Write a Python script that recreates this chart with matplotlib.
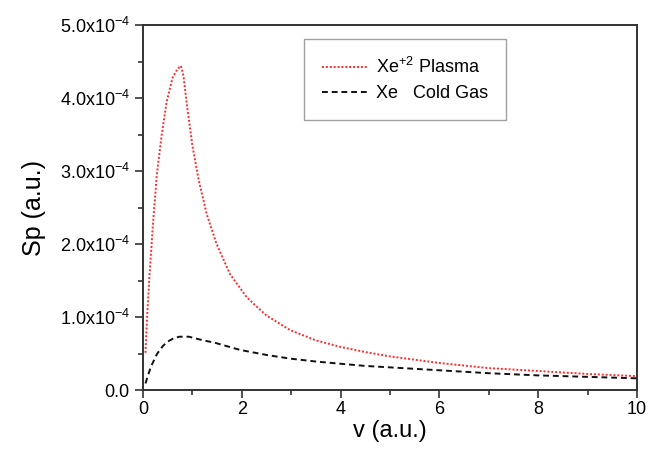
"""
Stopping power of xenon vs projectile velocity:
Xe+2 plasma compared with cold Xe gas.
"""

import matplotlib
matplotlib.use("Agg")
import matplotlib.pyplot as plt
from matplotlib.ticker import MultipleLocator, FixedLocator, FixedFormatter

plt.rcParams["font.family"] = ["Liberation Sans", "DejaVu Sans"]
plt.rcParams["mathtext.fontset"] = "custom"
plt.rcParams["mathtext.rm"] = "Liberation Sans"
plt.rcParams["mathtext.it"] = "Liberation Sans:italic"

# ---------------------------------------------------------------------------
# Data (Sp in units of 1e-4 a.u.)
# ---------------------------------------------------------------------------
SCALE = 1e-4

v_plasma = [0.05, 0.08, 0.13, 0.20, 0.28, 0.38, 0.48, 0.60, 0.70, 0.77,
            0.82, 0.90, 1.00, 1.13, 1.29, 1.49, 1.76, 2.10, 2.50, 2.98,
            3.5, 4.0, 4.5, 5.0, 6.0, 7.0, 8.0, 9.0, 10.0]
sp_plasma = [0.51, 0.95, 1.55, 2.25, 2.95, 3.50, 3.95, 4.28, 4.40, 4.44,
             4.30, 3.85, 3.35, 2.87, 2.41, 2.00, 1.59, 1.27, 1.02, 0.82,
             0.68, 0.59, 0.52, 0.46, 0.37, 0.30, 0.26, 0.22, 0.19]

v_gas = [0.05, 0.16, 0.29, 0.40, 0.49, 0.60, 0.73, 0.85, 0.93, 1.1,
         1.29, 1.44, 1.7, 1.96, 2.5, 2.98, 3.5, 3.99, 4.5, 5.0,
         6.0, 7.0, 8.0, 9.0, 10.0]
sp_gas = [0.09, 0.32, 0.50, 0.60, 0.66, 0.70, 0.73, 0.73, 0.73, 0.70,
          0.67, 0.65, 0.60, 0.55, 0.48, 0.43, 0.39, 0.36, 0.33, 0.31,
          0.27, 0.23, 0.20, 0.18, 0.16]

y_ticks = [0.0, 1.0, 2.0, 3.0, 4.0, 5.0]
y_tick_labels = ["0.0"] + [f"{t:.1f}x10$^{{-4}}$" for t in y_ticks[1:]]


def main() -> None:
    fig = plt.figure(figsize=(6.49, 4.49), dpi=100)
    ax = fig.add_axes([0.2203, 0.1314, 0.7612, 0.8129])

    ax.plot(v_plasma, [s * SCALE for s in sp_plasma], color="#ff2a2a",
            linestyle=(0, (1, 1)), linewidth=1.4, label="Xe$^{+2}$ Plasma")
    ax.plot(v_gas, [s * SCALE for s in sp_gas], color="#111111",
            linestyle=(0, (3, 2)), linewidth=1.4, label="Xe   Cold Gas")

    ax.set_xlim(0, 10)
    ax.set_ylim(0, 5.0e-4)

    ax.xaxis.set_major_locator(MultipleLocator(2))
    ax.xaxis.set_minor_locator(MultipleLocator(1))
    ax.yaxis.set_major_locator(FixedLocator([t * SCALE for t in y_ticks]))
    ax.yaxis.set_major_formatter(FixedFormatter(y_tick_labels))
    ax.yaxis.set_minor_locator(MultipleLocator(0.5e-4))

    ax.tick_params(which="both", direction="out", top=False, right=False,
                   width=1.2, color="#333333", labelsize=13)
    ax.tick_params(which="major", length=6)
    ax.tick_params(which="minor", length=3.5)
    ax.tick_params(axis="x", pad=2)
    for spine in ax.spines.values():
        spine.set_linewidth(1.4)
        spine.set_color("#333333")

    ax.set_xlabel("v (a.u.)", fontsize=17, labelpad=1)
    ax.set_ylabel("Sp (a.u.)", fontsize=18, labelpad=10)

    leg = ax.legend(loc="upper left", bbox_to_anchor=(0.326, 0.962),
                    borderaxespad=0, fontsize=13, frameon=True,
                    fancybox=False, handlelength=2.5, handletextpad=0.5,
                    borderpad=1.0, labelspacing=0.45)
    leg.get_frame().set_edgecolor("#888888")
    leg.get_frame().set_linewidth(1.0)

    fig.savefig("out.png", dpi=100)


if __name__ == "__main__":
    main()
